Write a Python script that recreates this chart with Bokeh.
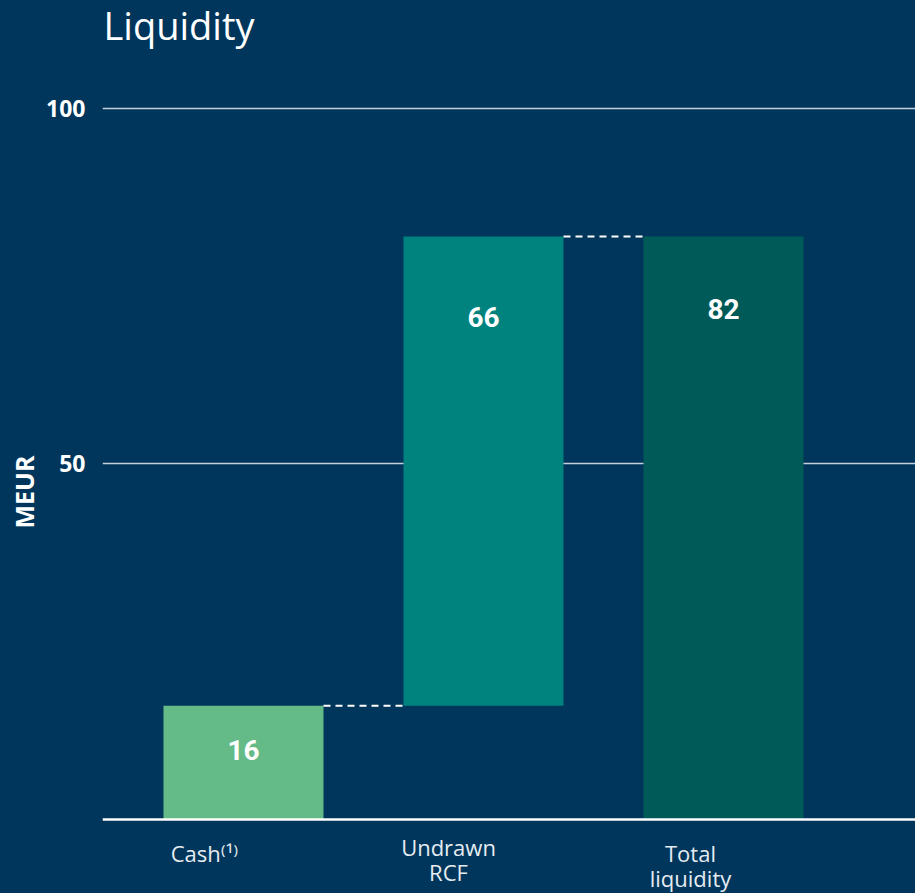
from bokeh.plotting import figure
from bokeh.models import Range1d, FixedTicker, Span, Label, Title
from bokeh.embed import file_html
from bokeh.resources import INLINE
from bokeh.core.properties import value

# ---- data ----
categories = ["Cash⁽¹⁾", "Undrawn\nRCF", "Total\nliquidity"]
values = [16, 66, 82]
bar_colors = ["#64BB87", "#00827F", "#005A57"]
y_ticks = [50, 100]
title_text = "Liquidity"
y_label = "MEUR"

BG = "#00365B"

xs = list(range(len(categories)))
bottoms = [0, values[0], 0]
tops = [b + v for b, v in zip(bottoms, values)]
bar_w = 2 / 3

W, H = 915, 893
p = figure(width=W, height=H, output_backend="svg", toolbar_location=None,
           x_axis_location=None,
           x_range=Range1d(-0.5875, 2.8), y_range=Range1d(-10.41, 115.19),
           min_border_left=102, min_border_right=0, min_border_top=0,
           min_border_bottom=0)
p.styles = {"background-color": BG}
p.background_fill_alpha = 0
p.border_fill_alpha = 0
p.outline_line_color = None

# y axis
p.yaxis.ticker = FixedTicker(ticks=y_ticks)
p.yaxis.axis_line_color = None
p.yaxis.major_tick_line_color = None
p.yaxis.minor_tick_line_color = None
p.yaxis.major_tick_out = 0
p.yaxis.major_tick_in = 0
p.yaxis.minor_tick_out = 0
p.yaxis.major_label_text_font = "Open Sans"
p.yaxis.major_label_text_font_style = "bold"
p.yaxis.major_label_text_font_size = "23px"
p.yaxis.major_label_text_color = "white"
p.yaxis.major_label_standoff = 17

# y label as a side title
p.add_layout(Title(text=y_label, align="left", offset=365, standoff=5,
                   text_font="Open Sans", text_font_style="bold",
                   text_font_size="25px", text_color="white"), "left")

p.xgrid.visible = False
p.ygrid.grid_line_color = "#C5CFD9"
p.ygrid.grid_line_width = 1.5

# bars
p.vbar(x=xs, bottom=bottoms, top=tops, width=bar_w, fill_color=bar_colors,
       line_color=None)

# connectors
p.segment(x0=[xs[i] + bar_w / 2 for i in range(len(xs) - 1)],
          x1=[xs[i + 1] - bar_w / 2 for i in range(len(xs) - 1)],
          y0=tops[:-1], y1=tops[:-1],
          line_color="white", line_width=2, line_dash="7 5")

# baseline
p.add_layout(Span(location=0, dimension="width", line_color="white", line_width=2.5))

# value labels
p.text(x=xs, y=tops, text=[str(v) for v in values], text_align="center",
       text_baseline="middle", y_offset=[44, 81, 73],
       text_font=value("Roboto"), text_font_style="bold", text_font_size="28px",
       text_color="white")

# category labels
p.text(x=xs, y=[0] * len(xs), text=categories, text_align="center",
       text_baseline="top", x_offset=[-39, -35, -33], y_offset=[19, 13, 19],
       text_font=value("Open Sans"), text_font_size="22px",
       text_line_height=0.83, text_color="#E6ECF1")

# title
p.add_layout(Label(x=1, y=H - 24, x_units="screen", y_units="screen",
                   text=title_text, text_font="Open Sans", text_font_size="38px",
                   text_color="white", text_baseline="alphabetic", text_align="left"))

open("out.html", "w").write(file_html(p, INLINE))
